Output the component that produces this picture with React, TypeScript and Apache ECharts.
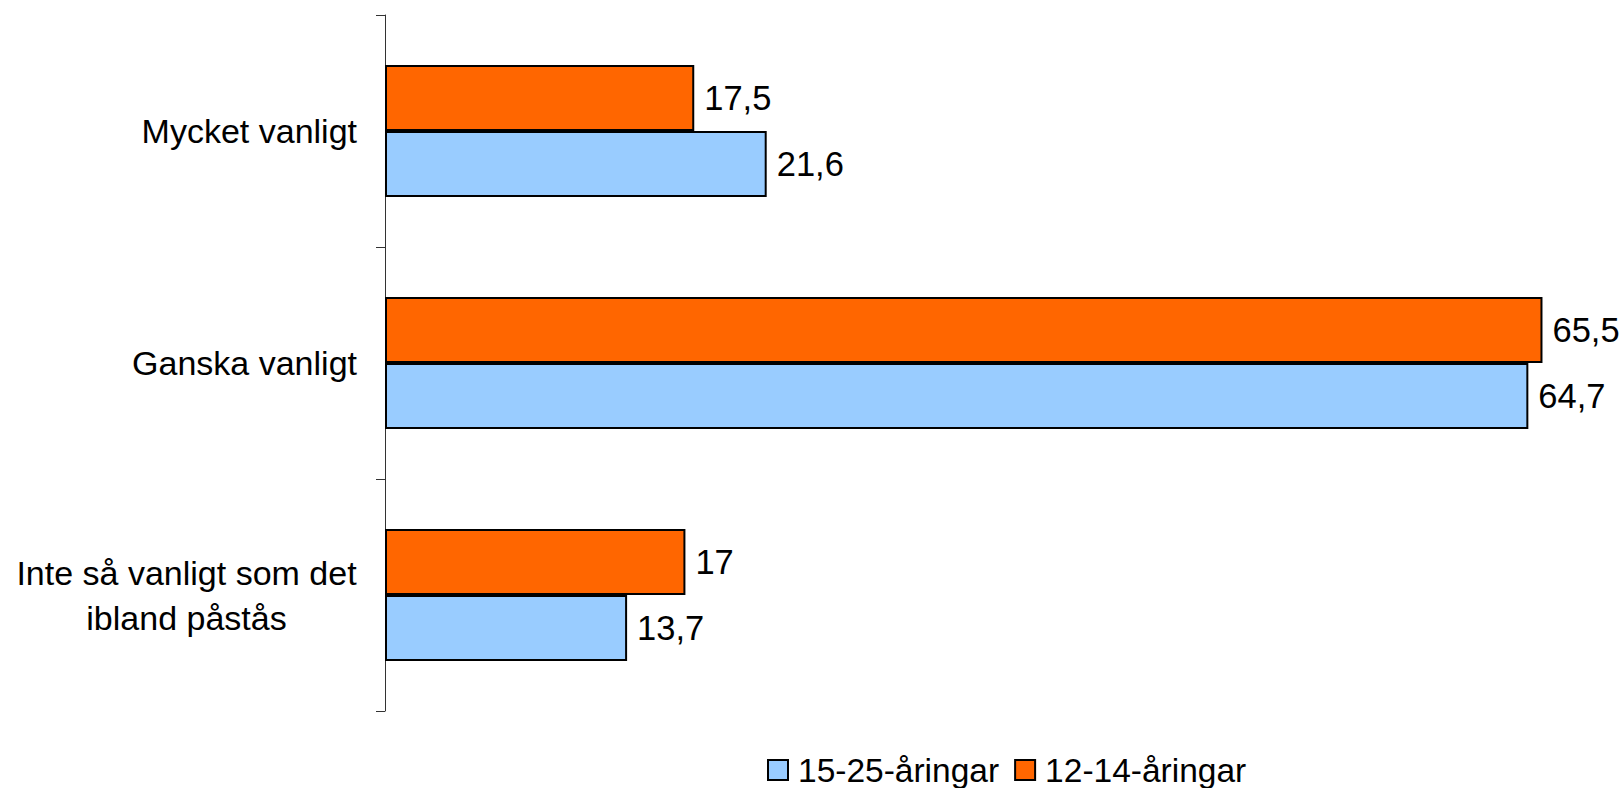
import React, { useEffect, useRef } from "react";
import * as echarts from "echarts";

const categories = ["Mycket vanligt", "Ganska vanligt", "Inte så vanligt som det\nibland påstås"];
const seriesNames = ["15-25-åringar", "12-14-åringar"];
const values1525 = [21.6, 64.7, 13.7];
const values1214 = [17.5, 65.5, 17];

const FONT = "'Liberation Sans', Arial, Helvetica, sans-serif";
const FS_CAT = 34;
const FS_LBL = 34.5;
const FS_LEG = 33.5;

function measure(text: string): number {
  const c = document.createElement("canvas").getContext("2d");
  if (!c) return text.length * FS_CAT * 0.5;
  c.font = `${FS_CAT}px ${FONT}`;
  return c.measureText(text).width;
}

export default function App() {
  const ref = useRef<HTMLDivElement>(null);
  useEffect(() => {
    if (!ref.current) return;
    const chart = echarts.init(ref.current, undefined, { renderer: "svg" });
    const labelStyle = {
      show: true,
      position: "right",
      distance: 10,
      color: "#000",
      fontSize: FS_LBL,
      fontFamily: FONT,
      formatter: (p: any) => String(p.value).replace(".", ","),
    };
    const multiWidth = Math.ceil(
      Math.max(
        ...categories
          .filter((c) => c.includes("\n"))
          .flatMap((c) => c.split("\n"))
          .map((l) => measure(l))
      )
    );
    chart.setOption({
      animation: false,
      backgroundColor: "#fff",
      grid: { left: 385, right: 1, top: 15, bottom: 77, containLabel: false },
      legend: {
        data: seriesNames,
        left: 762,
        top: 748,
        icon: "rect",
        itemWidth: 20,
        itemHeight: 20,
        itemGap: 15,
        textStyle: { fontSize: FS_LEG, fontFamily: FONT, color: "#000", padding: [0, 0, 0, 5] },
      },
      xAxis: {
        type: "value",
        min: 0,
        max: 70,
        show: false,
        splitLine: { show: false },
      },
      yAxis: {
        type: "category",
        inverse: true,
        data: categories,
        axisLine: { show: true, lineStyle: { color: "#333", width: 1 } },
        axisTick: { show: true, length: 9, lineStyle: { color: "#333" } },
        axisLabel: {
          margin: 28,
          color: "#000",
          fontSize: FS_CAT,
          fontFamily: FONT,
          lineHeight: 45,
          formatter: (v: string) =>
            v.includes("\n")
              ? v
                  .split("\n")
                  .map((l) => `{c|${l}}`)
                  .join("\n")
              : v,
          rich: {
            c: {
              align: "center",
              width: multiWidth,
              fontSize: FS_CAT,
              fontFamily: FONT,
              lineHeight: 45,
              color: "#000",
            },
          },
        },
      },
      series: [
        {
          name: seriesNames[1],
          type: "bar",
          data: values1214,
          barCategoryGap: "43%",
          barGap: "0%",
          itemStyle: { color: "#FF6600", borderColor: "#000", borderWidth: 2 },
          label: labelStyle,
        },
        {
          name: seriesNames[0],
          type: "bar",
          data: values1525,
          barCategoryGap: "43%",
          barGap: "0%",
          itemStyle: { color: "#99CCFF", borderColor: "#000", borderWidth: 2 },
          label: labelStyle,
        },
      ],
    });
    return () => chart.dispose();
  }, []);
  return (
    <div
      ref={ref}
      style={{ position: "absolute", left: 0, top: 0, width: 1623, height: 788 }}
    />
  );
}
